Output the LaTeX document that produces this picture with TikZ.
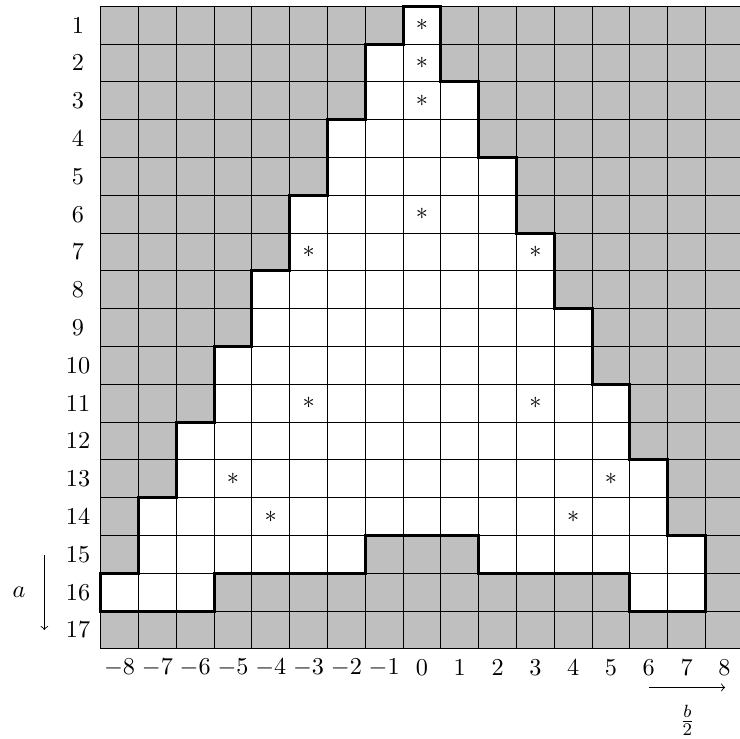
\documentclass[tikz,border=0pt]{standalone}
\begin{document}
\begin{tikzpicture}[x=0.6cm,y=0.6cm,
  font=\fontsize{11.4}{13.7}\selectfont,
  cellgrid/.style={line width=0.4pt, draw=black},
  outline/.style={line width=1.3pt, line join=miter, draw=black},
  lbl/.style={inner sep=0pt},
  ast/.style={inner sep=0pt},
  axisarrow/.style={->, line width=0.4pt}]
\clip (-11.164,-19.883) rectangle (8.413,-0.333);
\def\trianglepath{(-0.5,-0.5) -- (0.5,-0.5) -- (0.5,-2.5) -- (1.5,-2.5) -- (1.5,-4.5) -- (2.5,-4.5) -- (2.5,-6.5) -- (3.5,-6.5) -- (3.5,-8.5) -- (4.5,-8.5) -- (4.5,-10.5) -- (5.5,-10.5) -- (5.5,-12.5) -- (6.5,-12.5) -- (6.5,-14.5) -- (7.5,-14.5) -- (7.5,-16.5) -- (5.5,-16.5) -- (5.5,-15.5) -- (1.5,-15.5) -- (1.5,-14.5) -- (-1.5,-14.5) -- (-1.5,-15.5) -- (-5.5,-15.5) -- (-5.5,-16.5) -- (-8.5,-16.5) -- (-8.5,-15.5) -- (-7.5,-15.5) -- (-7.5,-13.5) -- (-6.5,-13.5) -- (-6.5,-11.5) -- (-5.5,-11.5) -- (-5.5,-9.5) -- (-4.5,-9.5) -- (-4.5,-7.5) -- (-3.5,-7.5) -- (-3.5,-5.5) -- (-2.5,-5.5) -- (-2.5,-3.5) -- (-1.5,-3.5) -- (-1.5,-1.5) -- (-0.5,-1.5) -- cycle}
% background
\fill[lightgray] (-8.5,-17.5) rectangle (8.5,-0.5);
\fill[white] \trianglepath;
% grid
\foreach \i in {-8,...,9} \draw[cellgrid] (\i-0.5,-17.5) -- (\i-0.5,-0.5);
\foreach \j in {0,...,17} \draw[cellgrid] (-8.5,-\j-0.5) -- (8.5,-\j-0.5);
% outline
\draw[outline] \trianglepath;
% stars
\foreach \c/\r [count=\k] in {0/1,0/2,0/3,0/6,-3/7,3/7,-3/11,3/11,-5/13,5/13,-4/14,4/14}
  \node[ast] (star\k) at (\c,-\r) {$*$};
% row labels
\foreach \r in {1,...,17} \node[lbl] (row\r) at (-9.1,-\r) {$\r$};
% column labels
\foreach \c in {-8,...,8} \node[lbl] (col\c) at (\c,-18) {$\c$};
% axis a
\coordinate (atop) at (-9.99,-15.02);
\coordinate (abot) at (-9.99,-17.0);
\draw[axisarrow] (atop) -- (abot);
\node[lbl] (alabel) at (-10.66,-16) {$a$};
% axis b/2
\coordinate (bleft) at (6.01,-18.52);
\coordinate (bright) at (8.02,-18.52);
\draw[axisarrow] (bleft) -- (bright);
\node[lbl] (blabel) at (7.02,-19.4) {$\frac{b}{2}$};
\end{tikzpicture}
\end{document}
